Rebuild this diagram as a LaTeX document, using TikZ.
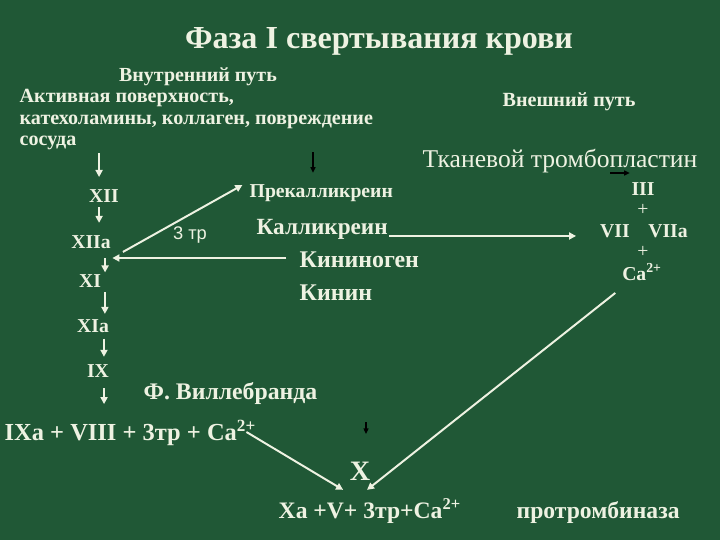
\documentclass[tikz,border=0pt]{standalone}
\usepackage{fontspec}
\setmainfont{Liberation Serif}
\newfontfamily\arialfont{Liberation Sans}
\usetikzlibrary{arrows.meta}
\definecolor{felt}{RGB}{32,88,54}
\definecolor{chalk}{RGB}{238,242,226}
\newcommand{\fsz}[1]{\fontsize{#1}{#1}\selectfont}

\begin{document}
\begin{tikzpicture}[x=0.025cm,y=-0.025cm,
  lbl/.style={text=chalk,inner sep=1pt,anchor=base},
  wa/.style={draw=chalk,line width=1.4pt,-{Triangle[length=5pt,width=5pt]}},
  ba/.style={draw=black,line width=0.9pt,-{Triangle[length=4pt,width=3.5pt]}}]
  \fill[felt] (0,0) rectangle (720,540);
  \useasboundingbox (0,0) rectangle (720,540);
  % headings
  \node[lbl,font=\bfseries\fsz{22.8}] (title) at (379,48) {Фаза I свертывания крови};
  \node[lbl,font=\bfseries\fsz{14.2}] (inner) at (198,81) {Внутренний путь};
  \node[lbl,anchor=base west,font=\bfseries\fsz{14.3}] (act) at (18,102) {Активная поверхность,};
  \node[lbl,anchor=base west,font=\bfseries\fsz{14.3}] (cat) at (18,124) {катехоламины, коллаген, повреждение};
  \node[lbl,anchor=base west,font=\bfseries\fsz{14.3}] (ves) at (18,145) {сосуда};
  \node[lbl,font=\bfseries\fsz{14.3}] (outer) at (569,106) {Внешний путь};
  \node[lbl,font=\fsz{18.2}] (tf) at (560,167) {Тканевой тромбопластин};
  % inner path
  \node[lbl,font=\bfseries\fsz{14}] (xii) at (104,202) {XII};
  \node[lbl,font=\bfseries\fsz{14}] (xiia) at (91,248) {XIIa};
  \node[lbl,font=\bfseries\fsz{14}] (xi) at (90,287) {XI};
  \node[lbl,font=\bfseries\fsz{14}] (xia) at (93,332) {XIa};
  \node[lbl,font=\bfseries\fsz{14}] (ix) at (98,377) {IX};
  \node[lbl,anchor=base west,font=\bfseries\fsz{17.4}] (ixa) at (3,440) {IXa + VIII + 3тр + Ca\textsuperscript{2+}};
  \node[lbl,anchor=base west,font=\bfseries\fsz{16.9}] (vwf) at (142,399) {Ф. Виллебранда};
  % kallikrein
  \node[lbl,anchor=base west,font=\bfseries\fsz{14}] (pk) at (248,197) {Прекалликреин};
  \node[lbl,font=\arialfont\fsz{13}] (thr) at (190,239) {3 тр};
  \node[lbl,anchor=base west,font=\bfseries\fsz{16.5}] (kal) at (255,234) {Калликреин};
  \node[lbl,anchor=base west,font=\bfseries\fsz{17}] (kng) at (298,267) {Кининоген};
  \node[lbl,anchor=base west,font=\bfseries\fsz{17}] (kin) at (298,300) {Кинин};
  % outer path
  \node[lbl,font=\bfseries\fsz{14}] (iii) at (643,195) {III};
  \node[lbl,font=\fsz{14}] (pl1) at (643,215) {+};
  \node[lbl,font=\bfseries\fsz{14}] (vii) at (615,237) {VII};
  \node[lbl,font=\bfseries\fsz{14}] (viia) at (668,237) {VIIa};
  \node[lbl,font=\fsz{14}] (pl2) at (643,257) {+};
  \node[lbl,font=\bfseries\fsz{14}] (ca) at (642,280) {Ca\textsuperscript{2+}};
  % factor X
  \node[lbl,font=\bfseries\fsz{20}] (x) at (360,480) {X};
  \node[lbl,anchor=base west,font=\bfseries\fsz{16.8}] (xa) at (277,518) {Xa +V+ 3тр+Ca\textsuperscript{2+}};
  \node[lbl,anchor=base west,font=\bfseries\fsz{16.8}] (prot) at (515,518) {протромбиназа};
  \coordinate (kk) at (313,152);
  \coordinate (tt) at (610,173);
  \coordinate (xx1) at (366,422);
  \coordinate (xx2) at (366,434);

  % cascade arrows
  \draw[wa,shorten <=1.4pt,shorten >=7.4pt] ([xshift=-3.5pt]ves.south -| xii.north) -- ([xshift=-3.5pt]xii.north);
  \draw[wa,shorten <=2.5pt,shorten >=7.5pt] ([xshift=-3.5pt]xii.south) -- ([xshift=-3.5pt]xii.south |- xiia.north);
  \draw[wa,shorten <=6pt] ([xshift=10pt]xiia.south) -- ([xshift=10pt]xiia.south |- xi.north);
  \draw[wa,shorten <=2.5pt,shorten >=2.5pt] ([xshift=10.6pt]xi.south) -- ([xshift=10.6pt]xi.south |- xia.north);
  \draw[wa,shorten <=3.3pt,shorten >=4pt] ([xshift=7.8pt]xia.south) -- ([xshift=7.8pt]xia.south |- ix.north);
  \draw[wa,shorten <=6.8pt,shorten >=10pt] ([xshift=4.3pt]ix.south) -- ([xshift=4.3pt]ix.south |- ixa.north);
  \draw[wa] ([xshift=7.5pt,yshift=-2.8pt]xiia.base east) -- ([xshift=-4pt,yshift=8.5pt]pk.base west);
  \draw[wa,shorten >=8.2pt] ([xshift=-8.2pt,yshift=6.4pt]kng.base west) -- ([xshift=-8.2pt,yshift=6.4pt]kng.base west -| xiia.east);
  \draw[wa,shorten >=16pt] ([yshift=-1.4pt]kal.base east) -- ([yshift=-1.4pt]kal.base east -| vii.west);
  \draw[wa] ([xshift=-19pt,yshift=-9.2pt]ca.base) -- ([xshift=5pt,yshift=-7pt]x.base);
  \draw[wa] ([xshift=-8pt,yshift=5.7pt]ixa.base east) -- ([xshift=-12pt,yshift=-7pt]x.base);
  % small black arrows
  \draw[ba,shorten >=6.8pt] (kk) -- (kk |- pk.north);
  \draw[ba] (tt) -- (tt -| iii.west);
  \draw[ba] (xx1) -- (xx2);
\end{tikzpicture}
\end{document}
